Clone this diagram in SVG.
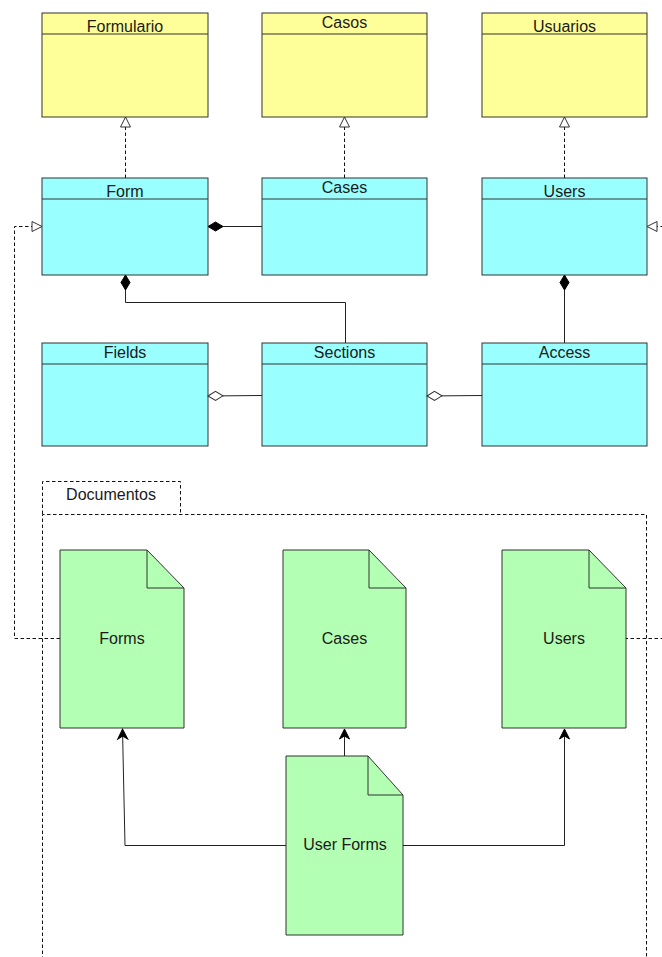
<svg xmlns="http://www.w3.org/2000/svg" width="662" height="957" viewBox="0 0 662 957">
  <style>
    .iface { fill: #ffff99; stroke: #333; stroke-width: 1; }
    .cls { fill: #99ffff; stroke: #333; stroke-width: 1; }
    .doc { fill: #b3ffb3; stroke: #333; stroke-width: 1; }
    .sep { stroke: #333; stroke-width: 1; fill: none; }
    .lbl { font-family: "Liberation Sans", Arial, Helvetica, sans-serif; font-size: 16px; fill: #1a1a1a; text-anchor: middle; }
    .dash { fill: none; stroke: #111; stroke-width: 1; stroke-dasharray: 3.5 2.5; }
    .solid { fill: none; stroke: #222; stroke-width: 1; }
  </style>
  <defs>
    <!-- open triangle for realization -->
    <marker id="realize" markerUnits="userSpaceOnUse" markerWidth="12" markerHeight="12" refX="10" refY="5" orient="auto" overflow="visible">
      <path d="M0,0 L10,5 L0,10 Z" fill="#fff" stroke="#333" stroke-width="1" stroke-dasharray="none"/>
    </marker>
    <!-- filled diamond for composition -->
    <marker id="compose" markerUnits="userSpaceOnUse" markerWidth="16" markerHeight="10" refX="0" refY="4.5" orient="auto" overflow="visible">
      <path d="M0,4.5 L7.5,0 L15,4.5 L7.5,9 Z" fill="#000" stroke="#000" stroke-width="1"/>
    </marker>
    <!-- open diamond for aggregation -->
    <marker id="aggregate" markerUnits="userSpaceOnUse" markerWidth="16" markerHeight="10" refX="0" refY="4.5" orient="auto" overflow="visible">
      <path d="M0,4.5 L7.5,0 L15,4.5 L7.5,9 Z" fill="#fff" stroke="#333" stroke-width="1"/>
    </marker>
    <!-- block arrow for dependencies -->
    <marker id="arrow" markerUnits="userSpaceOnUse" markerWidth="12" markerHeight="12" refX="10" refY="5" orient="auto" overflow="visible">
      <path d="M0,0 L10,5 L0,10 L3,5 Z" fill="#000" stroke="#000" stroke-width="1"/>
    </marker>
  </defs>

  <rect width="662" height="957" fill="#fff"/>

  <!-- package container -->
  <g id="documentos">
    <path class="dash" d="M42.5,514 V481.5 H180.5 V514"/>
    <path class="dash" d="M42.5,960 V514.5 H646.5 V960"/>
    <text class="lbl" x="111" y="500">Documentos</text>
  </g>

  <!-- interfaces -->
  <g id="formulario">
    <rect class="iface" x="42" y="13" width="166" height="104"/>
    <line class="sep" x1="42" y1="34" x2="208" y2="34"/>
    <text class="lbl" x="125" y="32">Formulario</text>
  </g>
  <g id="casos">
    <rect class="iface" x="262" y="13" width="165" height="104"/>
    <line class="sep" x1="262" y1="34" x2="427" y2="34"/>
    <text class="lbl" x="344.5" y="28">Casos</text>
  </g>
  <g id="usuarios">
    <rect class="iface" x="482" y="13" width="165" height="104"/>
    <line class="sep" x1="482" y1="34" x2="647" y2="34"/>
    <text class="lbl" x="564.5" y="32">Usuarios</text>
  </g>

  <!-- classes -->
  <g id="form">
    <rect class="cls" x="42" y="178" width="166" height="97"/>
    <line class="sep" x1="42" y1="199" x2="208" y2="199"/>
    <text class="lbl" x="125" y="197">Form</text>
  </g>
  <g id="cases">
    <rect class="cls" x="262" y="178" width="165" height="97"/>
    <line class="sep" x1="262" y1="199" x2="427" y2="199"/>
    <text class="lbl" x="344.5" y="193">Cases</text>
  </g>
  <g id="users">
    <rect class="cls" x="482" y="178" width="165" height="97"/>
    <line class="sep" x1="482" y1="199" x2="647" y2="199"/>
    <text class="lbl" x="564.5" y="197">Users</text>
  </g>
  <g id="fields">
    <rect class="cls" x="42" y="343" width="166" height="103"/>
    <line class="sep" x1="42" y1="364" x2="208" y2="364"/>
    <text class="lbl" x="125" y="358">Fields</text>
  </g>
  <g id="sections">
    <rect class="cls" x="262" y="343" width="165" height="103"/>
    <line class="sep" x1="262" y1="364" x2="427" y2="364"/>
    <text class="lbl" x="344.5" y="358">Sections</text>
  </g>
  <g id="access">
    <rect class="cls" x="482" y="343" width="165" height="103"/>
    <line class="sep" x1="482" y1="364" x2="647" y2="364"/>
    <text class="lbl" x="564.5" y="358">Access</text>
  </g>

  <!-- documents -->
  <g id="doc-forms">
    <path class="doc" d="M60,550 H147 L184,588 V728 H60 Z"/>
    <path class="sep" d="M147,550 V588 H184"/>
    <text class="lbl" x="122" y="644">Forms</text>
  </g>
  <g id="doc-cases">
    <path class="doc" d="M283,550 H369 L406,588 V728 H283 Z"/>
    <path class="sep" d="M369,550 V588 H406"/>
    <text class="lbl" x="344.5" y="644">Cases</text>
  </g>
  <g id="doc-users">
    <path class="doc" d="M502,550 H589 L626,588 V728 H502 Z"/>
    <path class="sep" d="M589,550 V588 H626"/>
    <text class="lbl" x="564" y="644">Users</text>
  </g>
  <g id="doc-userforms">
    <path class="doc" d="M286,756 H368 L403,795 V935 H286 Z"/>
    <path class="sep" d="M368,756 V795 H403"/>
    <text class="lbl" x="345" y="850">User Forms</text>
  </g>

  <!-- connectors -->
  <g id="connectors">
    <!-- realizations -->
    <path class="dash" d="M125.5,178 V117" marker-end="url(#realize)"/>
    <path class="dash" d="M344.5,178 V117" marker-end="url(#realize)"/>
    <path class="dash" d="M564.5,178 V117" marker-end="url(#realize)"/>
    <path class="dash" d="M60,638.5 H14.5 V226.5 H42" marker-end="url(#realize)"/>
    <path class="dash" d="M670,638.5 H626"/>
    <path class="dash" d="M670,226.5 H647" marker-end="url(#realize)"/>
    <!-- compositions -->
    <path class="solid" d="M208,226.5 H262" marker-start="url(#compose)"/>
    <path class="solid" d="M125.5,275 V302.5 H345.5 V343" marker-start="url(#compose)"/>
    <path class="solid" d="M564.5,275 V343" marker-start="url(#compose)"/>
    <!-- aggregations -->
    <path class="solid" d="M208,396 L262,395.5" marker-start="url(#aggregate)"/>
    <path class="solid" d="M427,396 L482,395.5" marker-start="url(#aggregate)"/>
    <!-- dependencies -->
    <path class="solid" d="M344.5,756 V729" marker-end="url(#arrow)"/>
    <path class="solid" d="M286,845.5 H125 L122.5,729" marker-end="url(#arrow)"/>
    <path class="solid" d="M403,845.5 H564.5 V729" marker-end="url(#arrow)"/>
  </g>
</svg>
